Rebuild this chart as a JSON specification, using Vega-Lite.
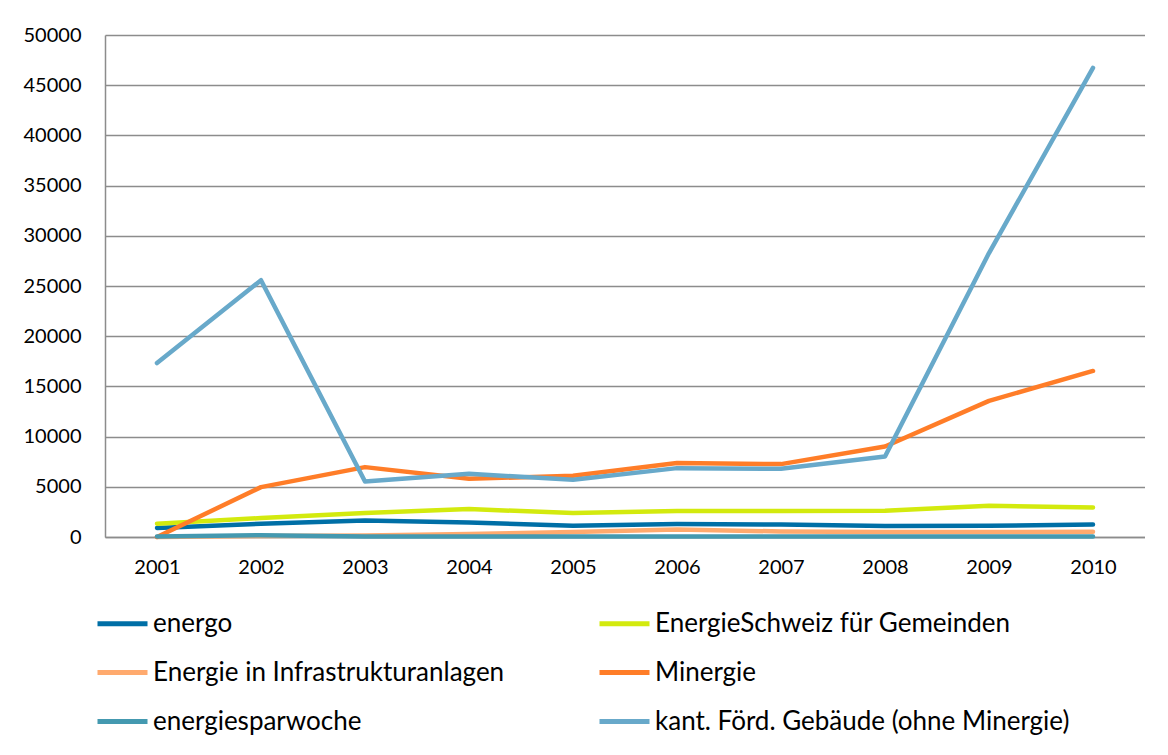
{
  "$schema": "https://vega.github.io/schema/vega-lite/v6.json",
  "width": 1040,
  "height": 502,
  "padding": {"left": 23, "top": 25, "right": 0, "bottom": 0},
  "background": "white",
  "config": {
    "view": {"stroke": null},
    "font": "Lato"
  },
  "data": {
    "values": [
      {"year": "2001", "series": "energo", "value": 900},
      {"year": "2002", "series": "energo", "value": 1320},
      {"year": "2003", "series": "energo", "value": 1650},
      {"year": "2004", "series": "energo", "value": 1450},
      {"year": "2005", "series": "energo", "value": 1120},
      {"year": "2006", "series": "energo", "value": 1290},
      {"year": "2007", "series": "energo", "value": 1250},
      {"year": "2008", "series": "energo", "value": 1090},
      {"year": "2009", "series": "energo", "value": 1120},
      {"year": "2010", "series": "energo", "value": 1250},
      {"year": "2001", "series": "EnergieSchweiz für Gemeinden", "value": 1320},
      {"year": "2002", "series": "EnergieSchweiz für Gemeinden", "value": 1890},
      {"year": "2003", "series": "EnergieSchweiz für Gemeinden", "value": 2390},
      {"year": "2004", "series": "EnergieSchweiz für Gemeinden", "value": 2780},
      {"year": "2005", "series": "EnergieSchweiz für Gemeinden", "value": 2390},
      {"year": "2006", "series": "EnergieSchweiz für Gemeinden", "value": 2580},
      {"year": "2007", "series": "EnergieSchweiz für Gemeinden", "value": 2580},
      {"year": "2008", "series": "EnergieSchweiz für Gemeinden", "value": 2610},
      {"year": "2009", "series": "EnergieSchweiz für Gemeinden", "value": 3110},
      {"year": "2010", "series": "EnergieSchweiz für Gemeinden", "value": 2940},
      {"year": "2001", "series": "Energie in Infrastrukturanlagen", "value": 0},
      {"year": "2002", "series": "Energie in Infrastrukturanlagen", "value": 100},
      {"year": "2003", "series": "Energie in Infrastrukturanlagen", "value": 150},
      {"year": "2004", "series": "Energie in Infrastrukturanlagen", "value": 300},
      {"year": "2005", "series": "Energie in Infrastrukturanlagen", "value": 500},
      {"year": "2006", "series": "Energie in Infrastrukturanlagen", "value": 750},
      {"year": "2007", "series": "Energie in Infrastrukturanlagen", "value": 550},
      {"year": "2008", "series": "Energie in Infrastrukturanlagen", "value": 500},
      {"year": "2009", "series": "Energie in Infrastrukturanlagen", "value": 500},
      {"year": "2010", "series": "Energie in Infrastrukturanlagen", "value": 520},
      {"year": "2001", "series": "Minergie", "value": 0},
      {"year": "2002", "series": "Minergie", "value": 4970},
      {"year": "2003", "series": "Minergie", "value": 6960},
      {"year": "2004", "series": "Minergie", "value": 5800},
      {"year": "2005", "series": "Minergie", "value": 6090},
      {"year": "2006", "series": "Minergie", "value": 7360},
      {"year": "2007", "series": "Minergie", "value": 7260},
      {"year": "2008", "series": "Minergie", "value": 9010},
      {"year": "2009", "series": "Minergie", "value": 13560},
      {"year": "2010", "series": "Minergie", "value": 16540},
      {"year": "2001", "series": "energiesparwoche", "value": 50},
      {"year": "2002", "series": "energiesparwoche", "value": 180},
      {"year": "2003", "series": "energiesparwoche", "value": 60},
      {"year": "2004", "series": "energiesparwoche", "value": 50},
      {"year": "2005", "series": "energiesparwoche", "value": 50},
      {"year": "2006", "series": "energiesparwoche", "value": 50},
      {"year": "2007", "series": "energiesparwoche", "value": 50},
      {"year": "2008", "series": "energiesparwoche", "value": 50},
      {"year": "2009", "series": "energiesparwoche", "value": 50},
      {"year": "2010", "series": "energiesparwoche", "value": 50},
      {"year": "2001", "series": "kant. Förd. Gebäude (ohne Minergie)", "value": 17330},
      {"year": "2002", "series": "kant. Förd. Gebäude (ohne Minergie)", "value": 25580},
      {"year": "2003", "series": "kant. Förd. Gebäude (ohne Minergie)", "value": 5530},
      {"year": "2004", "series": "kant. Förd. Gebäude (ohne Minergie)", "value": 6290},
      {"year": "2005", "series": "kant. Förd. Gebäude (ohne Minergie)", "value": 5700},
      {"year": "2006", "series": "kant. Förd. Gebäude (ohne Minergie)", "value": 6860},
      {"year": "2007", "series": "kant. Förd. Gebäude (ohne Minergie)", "value": 6790},
      {"year": "2008", "series": "kant. Förd. Gebäude (ohne Minergie)", "value": 8010},
      {"year": "2009", "series": "kant. Förd. Gebäude (ohne Minergie)", "value": 28280},
      {"year": "2010", "series": "kant. Förd. Gebäude (ohne Minergie)", "value": 46720}
    ]
  },
  "mark": {"type": "line", "strokeWidth": 4.5, "strokeCap": "round", "strokeJoin": "round"},
  "encoding": {
    "x": {
      "field": "year",
      "type": "ordinal",
      "scale": {"padding": 0.5},
      "axis": {
        "title": null,
        "labelAngle": 0,
        "labelFontSize": 20,
        "labelColor": "#000000",
        "labelPadding": 20,
        "ticks": false,
        "domainColor": "#8c8c8c",
        "domainWidth": 1.5,
        "grid": false
      }
    },
    "y": {
      "field": "value",
      "type": "quantitative",
      "scale": {"domain": [0, 50000], "nice": false},
      "axis": {
        "title": null,
        "values": [0, 5000, 10000, 15000, 20000, 25000, 30000, 35000, 40000, 45000, 50000],
        "format": "d",
        "labelFontSize": 20,
        "labelColor": "#000000",
        "labelPadding": 24,
        "ticks": false,
        "domainColor": "#8c8c8c",
        "domainWidth": 1.5,
        "grid": true,
        "gridColor": "#8c8c8c",
        "gridWidth": 1.5,
        "gridOpacity": 1
      }
    },
    "color": {
      "field": "series",
      "type": "nominal",
      "sort": null,
      "scale": {
        "domain": ["energo", "Energie in Infrastrukturanlagen", "energiesparwoche", "EnergieSchweiz für Gemeinden", "Minergie", "kant. Förd. Gebäude (ohne Minergie)"],
        "range": ["#006FA6", "#FFAA6E", "#4499B0", "#D3EA0E", "#FF7D28", "#68A9CA"]
      },
      "legend": {
        "title": null,
        "orient": "none",
        "legendX": -10,
        "legendY": 561,
        "columns": 2,
        "columnPadding": 84,
        "rowPadding": 8,
        "padding": 0,
        "symbolType": "stroke",
        "symbolSize": 2500,
        "symbolStrokeWidth": 5,
        "labelFontSize": 26,
        "labelColor": "#000000",
        "labelOffset": 3,
        "labelLimit": 600
      }
    }
  }
}
